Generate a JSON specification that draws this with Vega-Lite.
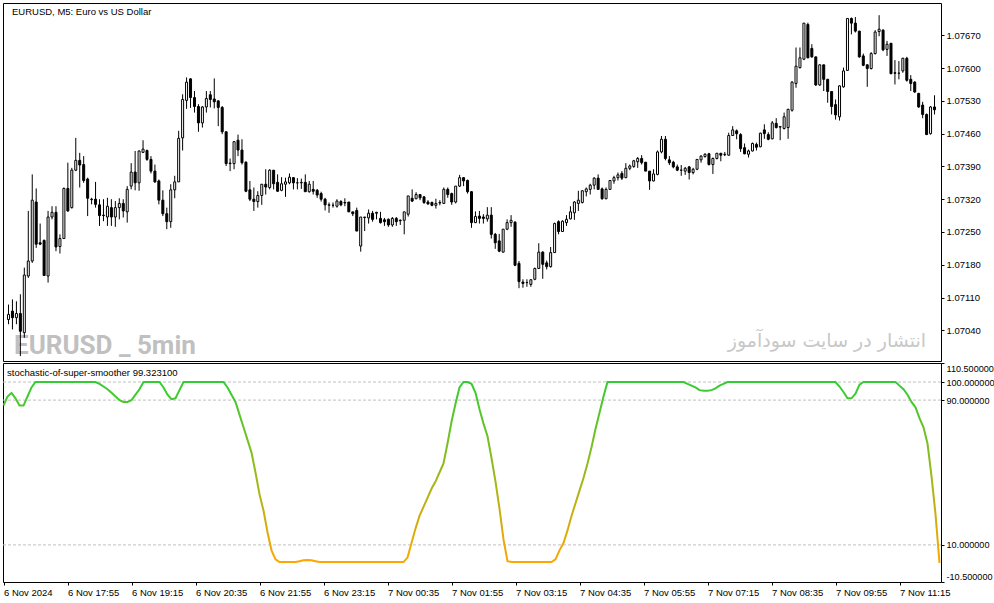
{
"$schema":"https://vega.github.io/schema/vega-lite/v6.json",
"background":"white",
"padding":{"left":2,"top":2,"right":0,"bottom":0},
"spacing":0,
"config":{"view":{"stroke":"black","strokeWidth":1},"font":"Liberation Sans",
"axis":{"domain":false,"grid":false,"ticks":true,"tickColor":"black","tickSize":3,"labelFont":"Liberation Sans","labelFontSize":9.5,"labelColor":"black","labelPadding":2,"labelOverlap":false,"labelFlush":false}},
"datasets":{
"levels":[{"v":100},{"v":90},{"v":10}],
"bars":[
{"i":0,"o":1.07063,"h":1.07095,"l":1.07053,"c":1.07074,"s":87},
{"i":1,"o":1.07081,"h":1.07106,"l":1.07042,"c":1.07067,"s":92},
{"i":2,"o":1.07067,"h":1.07102,"l":1.07053,"c":1.07076,"s":94},
{"i":3,"o":1.07076,"h":1.07117,"l":1.06985,"c":1.07038,"s":91},
{"i":4,"o":1.07035,"h":1.07174,"l":1.07024,"c":1.07158,"s":87},
{"i":5,"o":1.07156,"h":1.07295,"l":1.07152,"c":1.07188,"s":87},
{"i":6,"o":1.07188,"h":1.07373,"l":1.07184,"c":1.07318,"s":92},
{"i":7,"o":1.07314,"h":1.07343,"l":1.07216,"c":1.07224,"s":97},
{"i":8,"o":1.07227,"h":1.07268,"l":1.07222,"c":1.07224,"s":100},
{"i":9,"o":1.07232,"h":1.07234,"l":1.07156,"c":1.07157,"s":100},
{"i":10,"o":1.07156,"h":1.07295,"l":1.07142,"c":1.07282,"s":100},
{"i":11,"o":1.07282,"h":1.07305,"l":1.07277,"c":1.07292,"s":100},
{"i":12,"o":1.07292,"h":1.07305,"l":1.07209,"c":1.07218,"s":100},
{"i":13,"o":1.07219,"h":1.07245,"l":1.07204,"c":1.07236,"s":100},
{"i":14,"o":1.07236,"h":1.07345,"l":1.07236,"c":1.07343,"s":100},
{"i":15,"o":1.07343,"h":1.07398,"l":1.07293,"c":1.07295,"s":100},
{"i":16,"o":1.07302,"h":1.07387,"l":1.07300,"c":1.07382,"s":100},
{"i":17,"o":1.07382,"h":1.07451,"l":1.07380,"c":1.07403,"s":100},
{"i":18,"o":1.07403,"h":1.07419,"l":1.07345,"c":1.07393,"s":100},
{"i":19,"o":1.07394,"h":1.07412,"l":1.07355,"c":1.07360,"s":100},
{"i":20,"o":1.07363,"h":1.07366,"l":1.07284,"c":1.07322,"s":100},
{"i":21,"o":1.07320,"h":1.07323,"l":1.07309,"c":1.07319,"s":100},
{"i":22,"o":1.07320,"h":1.07357,"l":1.07302,"c":1.07309,"s":100},
{"i":23,"o":1.07308,"h":1.07320,"l":1.07263,"c":1.07285,"s":100},
{"i":24,"o":1.07286,"h":1.07320,"l":1.07273,"c":1.07285,"s":99},
{"i":25,"o":1.07282,"h":1.07323,"l":1.07263,"c":1.07305,"s":97.5},
{"i":26,"o":1.07302,"h":1.07320,"l":1.07263,"c":1.07282,"s":96},
{"i":27,"o":1.07282,"h":1.07316,"l":1.07261,"c":1.07302,"s":94},
{"i":28,"o":1.07302,"h":1.07322,"l":1.07277,"c":1.07311,"s":92},
{"i":29,"o":1.07311,"h":1.07320,"l":1.07281,"c":1.07295,"s":90},
{"i":30,"o":1.07293,"h":1.07348,"l":1.07270,"c":1.07341,"s":89},
{"i":31,"o":1.07348,"h":1.07397,"l":1.07341,"c":1.07378,"s":89},
{"i":32,"o":1.07378,"h":1.07423,"l":1.07339,"c":1.07355,"s":90},
{"i":33,"o":1.07355,"h":1.07424,"l":1.07338,"c":1.07423,"s":93},
{"i":34,"o":1.07420,"h":1.07446,"l":1.07419,"c":1.07427,"s":96},
{"i":35,"o":1.07424,"h":1.07426,"l":1.07402,"c":1.07405,"s":100},
{"i":36,"o":1.07405,"h":1.07412,"l":1.07375,"c":1.07380,"s":100},
{"i":37,"o":1.07380,"h":1.07394,"l":1.07355,"c":1.07357,"s":100},
{"i":38,"o":1.07359,"h":1.07362,"l":1.07309,"c":1.07318,"s":100},
{"i":39,"o":1.07318,"h":1.07339,"l":1.07284,"c":1.07289,"s":100},
{"i":40,"o":1.07289,"h":1.07302,"l":1.07256,"c":1.07272,"s":97},
{"i":41,"o":1.07272,"h":1.07352,"l":1.07259,"c":1.07340,"s":93},
{"i":42,"o":1.07340,"h":1.07370,"l":1.07322,"c":1.07357,"s":90.5},
{"i":43,"o":1.07357,"h":1.07466,"l":1.07357,"c":1.07450,"s":91},
{"i":44,"o":1.07451,"h":1.07544,"l":1.07424,"c":1.07533,"s":95.5},
{"i":45,"o":1.07531,"h":1.07580,"l":1.07513,"c":1.07570,"s":100},
{"i":46,"o":1.07577,"h":1.07578,"l":1.07515,"c":1.07537,"s":100},
{"i":47,"o":1.07537,"h":1.07551,"l":1.07505,"c":1.07518,"s":100},
{"i":48,"o":1.07518,"h":1.07523,"l":1.07464,"c":1.07483,"s":100},
{"i":49,"o":1.07483,"h":1.07519,"l":1.07473,"c":1.07517,"s":100},
{"i":50,"o":1.07517,"h":1.07551,"l":1.07505,"c":1.07535,"s":100},
{"i":51,"o":1.07543,"h":1.07551,"l":1.07516,"c":1.07533,"s":100},
{"i":52,"o":1.07534,"h":1.07578,"l":1.07514,"c":1.07528,"s":100},
{"i":53,"o":1.07530,"h":1.07531,"l":1.07476,"c":1.07516,"s":100},
{"i":54,"o":1.07516,"h":1.07519,"l":1.07459,"c":1.07464,"s":100},
{"i":55,"o":1.07464,"h":1.07464,"l":1.07391,"c":1.07396,"s":100},
{"i":56,"o":1.07397,"h":1.07407,"l":1.07380,"c":1.07396,"s":97},
{"i":57,"o":1.07396,"h":1.07444,"l":1.07384,"c":1.07443,"s":93},
{"i":58,"o":1.07446,"h":1.07458,"l":1.07412,"c":1.07425,"s":89},
{"i":59,"o":1.07425,"h":1.07448,"l":1.07394,"c":1.07398,"s":82},
{"i":60,"o":1.07399,"h":1.07401,"l":1.07335,"c":1.07337,"s":75},
{"i":61,"o":1.07340,"h":1.07359,"l":1.07316,"c":1.07320,"s":68},
{"i":62,"o":1.07320,"h":1.07345,"l":1.07295,"c":1.07315,"s":61},
{"i":63,"o":1.07315,"h":1.07337,"l":1.07302,"c":1.07328,"s":50},
{"i":64,"o":1.07328,"h":1.07352,"l":1.07308,"c":1.07352,"s":38},
{"i":65,"o":1.07352,"h":1.07384,"l":1.07330,"c":1.07346,"s":29},
{"i":66,"o":1.07345,"h":1.07384,"l":1.07341,"c":1.07382,"s":17},
{"i":67,"o":1.07382,"h":1.07382,"l":1.07341,"c":1.07353,"s":7},
{"i":68,"o":1.07356,"h":1.07373,"l":1.07336,"c":1.07337,"s":2},
{"i":69,"o":1.07339,"h":1.07367,"l":1.07337,"c":1.07353,"s":0.5},
{"i":70,"o":1.07352,"h":1.07366,"l":1.07325,"c":1.07357,"s":0.5},
{"i":71,"o":1.07355,"h":1.07375,"l":1.07352,"c":1.07367,"s":0.5},
{"i":72,"o":1.07366,"h":1.07367,"l":1.07341,"c":1.07355,"s":0.5},
{"i":73,"o":1.07355,"h":1.07365,"l":1.07341,"c":1.07355,"s":0.5},
{"i":74,"o":1.07355,"h":1.07364,"l":1.07342,"c":1.07356,"s":1},
{"i":75,"o":1.07356,"h":1.07373,"l":1.07336,"c":1.07336,"s":1.5},
{"i":76,"o":1.07336,"h":1.07359,"l":1.07334,"c":1.07352,"s":1.7},
{"i":77,"o":1.07341,"h":1.07359,"l":1.07330,"c":1.07337,"s":1.5},
{"i":78,"o":1.07339,"h":1.07342,"l":1.07323,"c":1.07329,"s":1},
{"i":79,"o":1.07332,"h":1.07336,"l":1.07315,"c":1.07320,"s":0.5},
{"i":80,"o":1.07320,"h":1.07323,"l":1.07296,"c":1.07308,"s":0.5},
{"i":81,"o":1.07307,"h":1.07313,"l":1.07291,"c":1.07308,"s":0.5},
{"i":82,"o":1.07307,"h":1.07313,"l":1.07302,"c":1.07307,"s":0.5},
{"i":83,"o":1.07305,"h":1.07320,"l":1.07302,"c":1.07316,"s":0.5},
{"i":84,"o":1.07315,"h":1.07318,"l":1.07305,"c":1.07308,"s":0.5},
{"i":85,"o":1.07313,"h":1.07322,"l":1.07305,"c":1.07312,"s":0.5},
{"i":86,"o":1.07314,"h":1.07314,"l":1.07293,"c":1.07293,"s":0.5},
{"i":87,"o":1.07293,"h":1.07293,"l":1.07284,"c":1.07289,"s":0.5},
{"i":88,"o":1.07296,"h":1.07302,"l":1.07252,"c":1.07252,"s":0.5},
{"i":89,"o":1.07220,"h":1.07282,"l":1.07208,"c":1.07282,"s":0.5},
{"i":90,"o":1.07281,"h":1.07282,"l":1.07252,"c":1.07282,"s":0.5},
{"i":91,"o":1.07280,"h":1.07298,"l":1.07268,"c":1.07290,"s":0.5},
{"i":92,"o":1.07290,"h":1.07295,"l":1.07272,"c":1.07277,"s":0.5},
{"i":93,"o":1.07290,"h":1.07293,"l":1.07277,"c":1.07292,"s":0.5},
{"i":94,"o":1.07279,"h":1.07293,"l":1.07268,"c":1.07270,"s":0.5},
{"i":95,"o":1.07276,"h":1.07280,"l":1.07263,"c":1.07272,"s":0.5},
{"i":96,"o":1.07277,"h":1.07279,"l":1.07261,"c":1.07265,"s":0.5},
{"i":97,"o":1.07265,"h":1.07282,"l":1.07261,"c":1.07279,"s":0.5},
{"i":98,"o":1.07279,"h":1.07282,"l":1.07263,"c":1.07272,"s":0.5},
{"i":99,"o":1.07275,"h":1.07277,"l":1.07265,"c":1.07274,"s":0.5},
{"i":100,"o":1.07275,"h":1.07293,"l":1.07245,"c":1.07293,"s":0.5},
{"i":101,"o":1.07288,"h":1.07327,"l":1.07283,"c":1.07327,"s":3},
{"i":102,"o":1.07322,"h":1.07341,"l":1.07314,"c":1.07316,"s":11},
{"i":103,"o":1.07321,"h":1.07335,"l":1.07320,"c":1.07330,"s":19},
{"i":104,"o":1.07330,"h":1.07331,"l":1.07318,"c":1.07323,"s":26},
{"i":105,"o":1.07325,"h":1.07327,"l":1.07310,"c":1.07313,"s":31},
{"i":106,"o":1.07314,"h":1.07318,"l":1.07308,"c":1.07310,"s":36},
{"i":107,"o":1.07313,"h":1.07315,"l":1.07305,"c":1.07307,"s":41},
{"i":108,"o":1.07307,"h":1.07321,"l":1.07300,"c":1.07311,"s":45},
{"i":109,"o":1.07312,"h":1.07318,"l":1.07307,"c":1.07313,"s":50},
{"i":110,"o":1.07311,"h":1.07345,"l":1.07310,"c":1.07341,"s":55},
{"i":111,"o":1.07341,"h":1.07345,"l":1.07323,"c":1.07330,"s":66},
{"i":112,"o":1.07332,"h":1.07334,"l":1.07308,"c":1.07314,"s":78},
{"i":113,"o":1.07314,"h":1.07348,"l":1.07311,"c":1.07348,"s":88},
{"i":114,"o":1.07348,"h":1.07372,"l":1.07346,"c":1.07366,"s":97},
{"i":115,"o":1.07366,"h":1.07367,"l":1.07348,"c":1.07359,"s":100},
{"i":116,"o":1.07360,"h":1.07362,"l":1.07332,"c":1.07336,"s":100},
{"i":117,"o":1.07336,"h":1.07337,"l":1.07259,"c":1.07270,"s":99},
{"i":118,"o":1.07270,"h":1.07294,"l":1.07269,"c":1.07283,"s":94},
{"i":119,"o":1.07284,"h":1.07295,"l":1.07268,"c":1.07279,"s":85},
{"i":120,"o":1.07282,"h":1.07288,"l":1.07268,"c":1.07279,"s":77},
{"i":121,"o":1.07278,"h":1.07303,"l":1.07272,"c":1.07286,"s":70},
{"i":122,"o":1.07286,"h":1.07303,"l":1.07236,"c":1.07245,"s":58},
{"i":123,"o":1.07245,"h":1.07248,"l":1.07214,"c":1.07227,"s":45},
{"i":124,"o":1.07231,"h":1.07246,"l":1.07207,"c":1.07209,"s":30},
{"i":125,"o":1.07207,"h":1.07256,"l":1.07206,"c":1.07256,"s":13},
{"i":126,"o":1.07256,"h":1.07277,"l":1.07254,"c":1.07270,"s":1},
{"i":127,"o":1.07270,"h":1.07286,"l":1.07261,"c":1.07275,"s":0.5},
{"i":128,"o":1.07271,"h":1.07273,"l":1.07177,"c":1.07179,"s":0.5},
{"i":129,"o":1.07183,"h":1.07188,"l":1.07130,"c":1.07144,"s":0.5},
{"i":130,"o":1.07143,"h":1.07149,"l":1.07131,"c":1.07140,"s":0.5},
{"i":131,"o":1.07142,"h":1.07149,"l":1.07133,"c":1.07142,"s":0.5},
{"i":132,"o":1.07138,"h":1.07149,"l":1.07133,"c":1.07148,"s":0.5},
{"i":133,"o":1.07149,"h":1.07174,"l":1.07147,"c":1.07172,"s":0.5},
{"i":134,"o":1.07172,"h":1.07226,"l":1.07172,"c":1.07207,"s":0.5},
{"i":135,"o":1.07207,"h":1.07209,"l":1.07150,"c":1.07181,"s":0.5},
{"i":136,"o":1.07184,"h":1.07189,"l":1.07170,"c":1.07176,"s":0.5},
{"i":137,"o":1.07176,"h":1.07218,"l":1.07174,"c":1.07206,"s":0.5},
{"i":138,"o":1.07206,"h":1.07270,"l":1.07206,"c":1.07268,"s":2},
{"i":139,"o":1.07272,"h":1.07275,"l":1.07245,"c":1.07251,"s":7},
{"i":140,"o":1.07251,"h":1.07275,"l":1.07250,"c":1.07273,"s":11},
{"i":141,"o":1.07270,"h":1.07286,"l":1.07263,"c":1.07277,"s":18},
{"i":142,"o":1.07278,"h":1.07305,"l":1.07277,"c":1.07293,"s":26},
{"i":143,"o":1.07291,"h":1.07316,"l":1.07276,"c":1.07314,"s":33},
{"i":144,"o":1.07311,"h":1.07338,"l":1.07295,"c":1.07318,"s":40},
{"i":145,"o":1.07313,"h":1.07339,"l":1.07311,"c":1.07338,"s":47},
{"i":146,"o":1.07336,"h":1.07345,"l":1.07326,"c":1.07342,"s":55},
{"i":147,"o":1.07341,"h":1.07353,"l":1.07330,"c":1.07350,"s":64},
{"i":148,"o":1.07350,"h":1.07367,"l":1.07341,"c":1.07365,"s":74},
{"i":149,"o":1.07365,"h":1.07373,"l":1.07340,"c":1.07341,"s":83},
{"i":150,"o":1.07342,"h":1.07345,"l":1.07319,"c":1.07321,"s":92},
{"i":151,"o":1.07321,"h":1.07345,"l":1.07320,"c":1.07341,"s":100},
{"i":152,"o":1.07341,"h":1.07361,"l":1.07340,"c":1.07360,"s":100},
{"i":153,"o":1.07359,"h":1.07370,"l":1.07353,"c":1.07366,"s":100},
{"i":154,"o":1.07366,"h":1.07377,"l":1.07360,"c":1.07372,"s":100},
{"i":155,"o":1.07375,"h":1.07380,"l":1.07361,"c":1.07365,"s":100},
{"i":156,"o":1.07366,"h":1.07397,"l":1.07365,"c":1.07386,"s":100},
{"i":157,"o":1.07386,"h":1.07394,"l":1.07382,"c":1.07391,"s":100},
{"i":158,"o":1.07390,"h":1.07404,"l":1.07387,"c":1.07402,"s":100},
{"i":159,"o":1.07400,"h":1.07410,"l":1.07387,"c":1.07407,"s":100},
{"i":160,"o":1.07407,"h":1.07414,"l":1.07394,"c":1.07398,"s":100},
{"i":161,"o":1.07399,"h":1.07399,"l":1.07380,"c":1.07380,"s":100},
{"i":162,"o":1.07380,"h":1.07380,"l":1.07340,"c":1.07359,"s":100},
{"i":163,"o":1.07359,"h":1.07384,"l":1.07358,"c":1.07374,"s":100},
{"i":164,"o":1.07373,"h":1.07424,"l":1.07371,"c":1.07421,"s":100},
{"i":165,"o":1.07421,"h":1.07455,"l":1.07418,"c":1.07448,"s":100},
{"i":166,"o":1.07448,"h":1.07455,"l":1.07403,"c":1.07407,"s":100},
{"i":167,"o":1.07404,"h":1.07412,"l":1.07393,"c":1.07398,"s":100},
{"i":168,"o":1.07399,"h":1.07402,"l":1.07386,"c":1.07389,"s":100},
{"i":169,"o":1.07389,"h":1.07394,"l":1.07380,"c":1.07382,"s":100},
{"i":170,"o":1.07382,"h":1.07393,"l":1.07370,"c":1.07382,"s":100},
{"i":171,"o":1.07380,"h":1.07389,"l":1.07372,"c":1.07386,"s":99},
{"i":172,"o":1.07389,"h":1.07391,"l":1.07362,"c":1.07377,"s":98},
{"i":173,"o":1.07377,"h":1.07387,"l":1.07373,"c":1.07384,"s":97},
{"i":174,"o":1.07384,"h":1.07405,"l":1.07382,"c":1.07405,"s":95.5},
{"i":175,"o":1.07404,"h":1.07414,"l":1.07398,"c":1.07412,"s":95.2},
{"i":176,"o":1.07411,"h":1.07418,"l":1.07409,"c":1.07416,"s":95.2},
{"i":177,"o":1.07417,"h":1.07419,"l":1.07392,"c":1.07394,"s":95.5},
{"i":178,"o":1.07394,"h":1.07409,"l":1.07374,"c":1.07407,"s":96.5},
{"i":179,"o":1.07407,"h":1.07419,"l":1.07405,"c":1.07418,"s":98},
{"i":180,"o":1.07418,"h":1.07419,"l":1.07401,"c":1.07414,"s":99},
{"i":181,"o":1.07415,"h":1.07421,"l":1.07412,"c":1.07416,"s":100},
{"i":182,"o":1.07414,"h":1.07462,"l":1.07413,"c":1.07456,"s":100},
{"i":183,"o":1.07456,"h":1.07476,"l":1.07455,"c":1.07468,"s":100},
{"i":184,"o":1.07466,"h":1.07469,"l":1.07448,"c":1.07460,"s":100},
{"i":185,"o":1.07458,"h":1.07461,"l":1.07421,"c":1.07428,"s":100},
{"i":186,"o":1.07430,"h":1.07439,"l":1.07416,"c":1.07417,"s":100},
{"i":187,"o":1.07416,"h":1.07426,"l":1.07409,"c":1.07423,"s":100},
{"i":188,"o":1.07423,"h":1.07441,"l":1.07422,"c":1.07439,"s":100},
{"i":189,"o":1.07437,"h":1.07441,"l":1.07424,"c":1.07431,"s":100},
{"i":190,"o":1.07432,"h":1.07462,"l":1.07431,"c":1.07461,"s":100},
{"i":191,"o":1.07468,"h":1.07480,"l":1.07449,"c":1.07460,"s":100},
{"i":192,"o":1.07458,"h":1.07463,"l":1.07446,"c":1.07448,"s":100},
{"i":193,"o":1.07449,"h":1.07487,"l":1.07448,"c":1.07483,"s":100},
{"i":194,"o":1.07482,"h":1.07493,"l":1.07471,"c":1.07473,"s":100},
{"i":195,"o":1.07474,"h":1.07476,"l":1.07446,"c":1.07475,"s":100},
{"i":196,"o":1.07471,"h":1.07505,"l":1.07469,"c":1.07496,"s":100},
{"i":197,"o":1.07473,"h":1.07513,"l":1.07449,"c":1.07512,"s":100},
{"i":198,"o":1.07510,"h":1.07572,"l":1.07507,"c":1.07570,"s":100},
{"i":199,"o":1.07567,"h":1.07644,"l":1.07558,"c":1.07604,"s":100},
{"i":200,"o":1.07601,"h":1.07644,"l":1.07599,"c":1.07622,"s":100},
{"i":201,"o":1.07619,"h":1.07696,"l":1.07617,"c":1.07696,"s":100},
{"i":202,"o":1.07693,"h":1.07697,"l":1.07621,"c":1.07622,"s":100},
{"i":203,"o":1.07642,"h":1.07651,"l":1.07622,"c":1.07624,"s":100},
{"i":204,"o":1.07624,"h":1.07624,"l":1.07562,"c":1.07564,"s":100},
{"i":205,"o":1.07564,"h":1.07608,"l":1.07562,"c":1.07607,"s":100},
{"i":206,"o":1.07607,"h":1.07607,"l":1.07551,"c":1.07576,"s":100},
{"i":207,"o":1.07576,"h":1.07577,"l":1.07526,"c":1.07550,"s":100},
{"i":208,"o":1.07550,"h":1.07551,"l":1.07501,"c":1.07518,"s":100},
{"i":209,"o":1.07522,"h":1.07533,"l":1.07490,"c":1.07500,"s":97.5},
{"i":210,"o":1.07496,"h":1.07563,"l":1.07488,"c":1.07562,"s":94.5},
{"i":211,"o":1.07560,"h":1.07601,"l":1.07558,"c":1.07594,"s":91},
{"i":212,"o":1.07595,"h":1.07706,"l":1.07594,"c":1.07706,"s":91},
{"i":213,"o":1.07706,"h":1.07708,"l":1.07672,"c":1.07696,"s":93.5},
{"i":214,"o":1.07696,"h":1.07709,"l":1.07676,"c":1.07679,"s":98.5},
{"i":215,"o":1.07679,"h":1.07679,"l":1.07622,"c":1.07624,"s":100},
{"i":216,"o":1.07626,"h":1.07631,"l":1.07604,"c":1.07606,"s":100},
{"i":217,"o":1.07607,"h":1.07608,"l":1.07560,"c":1.07599,"s":100},
{"i":218,"o":1.07599,"h":1.07634,"l":1.07597,"c":1.07631,"s":100},
{"i":219,"o":1.07631,"h":1.07681,"l":1.07629,"c":1.07677,"s":100},
{"i":220,"o":1.07678,"h":1.07713,"l":1.07668,"c":1.07683,"s":100},
{"i":221,"o":1.07681,"h":1.07683,"l":1.07636,"c":1.07639,"s":100},
{"i":222,"o":1.07640,"h":1.07658,"l":1.07626,"c":1.07651,"s":100},
{"i":223,"o":1.07653,"h":1.07653,"l":1.07587,"c":1.07588,"s":100},
{"i":224,"o":1.07590,"h":1.07617,"l":1.07565,"c":1.07589,"s":98},
{"i":225,"o":1.07589,"h":1.07615,"l":1.07576,"c":1.07589,"s":96},
{"i":226,"o":1.07594,"h":1.07622,"l":1.07590,"c":1.07621,"s":93},
{"i":227,"o":1.07621,"h":1.07624,"l":1.07571,"c":1.07574,"s":89},
{"i":228,"o":1.07576,"h":1.07585,"l":1.07551,"c":1.07567,"s":86},
{"i":229,"o":1.07570,"h":1.07572,"l":1.07547,"c":1.07549,"s":80},
{"i":230,"o":1.07546,"h":1.07547,"l":1.07515,"c":1.07517,"s":75},
{"i":231,"o":1.07521,"h":1.07528,"l":1.07493,"c":1.07501,"s":66},
{"i":232,"o":1.07501,"h":1.07503,"l":1.07457,"c":1.07458,"s":48},
{"i":233,"o":1.07460,"h":1.07519,"l":1.07458,"c":1.07517,"s":27},
{"i":234,"o":1.07517,"h":1.07542,"l":1.07501,"c":1.07511,"s":0}
]},
"vconcat":[
{
"width":938,"height":358,
"layer":[
{"data":{"values":[{}]},
 "mark":{"type":"text","text":"EURUSD _ 5min","font":"Roboto","fontWeight":"bold","fontSize":26,"color":"#C0C0C0","align":"left","baseline":"alphabetic","dx":6,"dy":-7,"clip":true},
 "encoding":{"x":{"datum":-0.125,"type":"quantitative","scale":{"domain":[-0.125,234.375],"nice":false,"zero":false},"axis":null},
             "y":{"datum":1.069745,"type":"quantitative","scale":{"domain":[1.069745,1.07739],"nice":false,"zero":false},
                  "axis":{"orient":"right","title":null,"values":[1.0704,1.0711,1.0718,1.0725,1.0732,1.0739,1.0746,1.0753,1.076,1.0767],"format":".5f","labelOverlap":false,"labelFlush":false}}}},
{"data":{"values":[{}]},
 "mark":{"type":"text","text":"انتشار در سایت سودآموز","font":"DejaVu Sans","fontSize":19,"color":"#C8C8C8","align":"right","baseline":"alphabetic","dx":-10,"dy":-14,"clip":true},
 "encoding":{"x":{"datum":234.375,"type":"quantitative","scale":{"domain":[-0.125,234.375],"nice":false,"zero":false},"axis":null},
             "y":{"datum":1.069745,"type":"quantitative","scale":{"domain":[1.069745,1.07739],"nice":false,"zero":false},
                  "axis":{"orient":"right","title":null,"values":[1.0704,1.0711,1.0718,1.0725,1.0732,1.0739,1.0746,1.0753,1.076,1.0767],"format":".5f","labelOverlap":false,"labelFlush":false}}}},
{"data":{"values":[{}]},
 "mark":{"type":"text","text":"EURUSD, M5:  Euro vs US Dollar","font":"Liberation Sans","fontSize":9.5,"color":"black","align":"left","baseline":"top","dx":4,"dy":4,"clip":true},
 "encoding":{"x":{"datum":-0.125,"type":"quantitative","scale":{"domain":[-0.125,234.375],"nice":false,"zero":false},"axis":null},
             "y":{"datum":1.07739,"type":"quantitative","scale":{"domain":[1.069745,1.07739],"nice":false,"zero":false},
                  "axis":{"orient":"right","title":null,"values":[1.0704,1.0711,1.0718,1.0725,1.0732,1.0739,1.0746,1.0753,1.076,1.0767],"format":".5f","labelOverlap":false,"labelFlush":false}}}},
{"data":{"name":"bars"},
 "mark":{"type":"rule","color":"black","strokeWidth":1,"clip":true},
 "encoding":{"x":{"field":"i","type":"quantitative","scale":{"domain":[-0.125,234.375],"nice":false,"zero":false},"axis":null},
             "y":{"field":"l","type":"quantitative","scale":{"domain":[1.069745,1.07739],"nice":false,"zero":false},
                  "axis":{"orient":"right","title":null,"values":[1.0704,1.0711,1.0718,1.0725,1.0732,1.0739,1.0746,1.0753,1.076,1.0767],"format":".5f","labelOverlap":false,"labelFlush":false}},
             "y2":{"field":"h"}}},
{"data":{"name":"bars"},
 "mark":{"type":"bar","width":2,"stroke":"black","strokeWidth":1,"clip":true},
 "encoding":{"x":{"field":"i","type":"quantitative","scale":{"domain":[-0.125,234.375],"nice":false,"zero":false},"axis":null},
             "y":{"field":"o","type":"quantitative","scale":{"domain":[1.069745,1.07739],"nice":false,"zero":false},
                  "axis":{"orient":"right","title":null,"values":[1.0704,1.0711,1.0718,1.0725,1.0732,1.0739,1.0746,1.0753,1.076,1.0767],"format":".5f","labelOverlap":false,"labelFlush":false}},
             "y2":{"field":"c"},
             "fill":{"condition":{"test":"datum.c >= datum.o","value":"white"},"value":"black"}}}
]
},
{
"width":938,"height":219,
"layer":[
{"data":{"name":"levels"},
 "mark":{"type":"rule","color":"#C0C0C0","strokeDash":[3,2],"strokeWidth":1},
 "encoding":{"y":{"field":"v","type":"quantitative","scale":{"domain":[-10.5,110.5],"nice":false,"zero":false},
   "axis":{"orient":"right","title":null,"values":[-10.5,10,90,100,110.5],"labelFontSize":9.1,"labelOverlap":false,"labelFlush":false,
     "labelOffset":{"condition":[{"test":"datum.value < 0","value":-6},{"test":"datum.value > 110","value":5}],"value":0},
     "labelExpr":"datum.value < 0 ? '-' + format(-datum.value, '.6f') : format(datum.value, '.6f')"}}}},
{"data":{"name":"bars"},
 "mark":{"type":"line","strokeWidth":2,"clip":true,"interpolate":"linear",
   "stroke":{"gradient":"linear","x1":0,"y1":0,"x2":0,"y2":1,"stops":[{"offset":0,"color":"#32CD32"},{"offset":1,"color":"#FFA500"}]}},
 "encoding":{"x":{"field":"i","type":"quantitative","scale":{"domain":[-0.125,234.375],"nice":false,"zero":false},
   "axis":{"orient":"bottom","title":null,"values":[0,16,32,48,64,80,96,112,128,144,160,176,192,208,224],"labelAlign":"left","labelFlush":false,"labelOverlap":false,
     "labelExpr":"['6 Nov 2024','6 Nov 17:55','6 Nov 19:15','6 Nov 20:35','6 Nov 21:55','6 Nov 23:15','7 Nov 00:35','7 Nov 01:55','7 Nov 03:15','7 Nov 04:35','7 Nov 05:55','7 Nov 07:15','7 Nov 08:35','7 Nov 09:55','7 Nov 11:15'][round(datum.value/16)]"}},
   "y":{"field":"s","type":"quantitative","scale":{"domain":[-10.5,110.5],"nice":false,"zero":false}}}},
{"data":{"values":[{}]},
 "mark":{"type":"text","text":"stochastic-of-super-smoother 99.323100","font":"Liberation Sans","fontSize":9.5,"color":"black","align":"left","baseline":"top","dx":4,"dy":5},
 "encoding":{"x":{"datum":-0.125,"type":"quantitative","scale":{"domain":[-0.125,234.375],"nice":false,"zero":false}},
             "y":{"datum":110.5,"type":"quantitative","scale":{"domain":[-10.5,110.5],"nice":false,"zero":false}}}}
]
}
]
}
